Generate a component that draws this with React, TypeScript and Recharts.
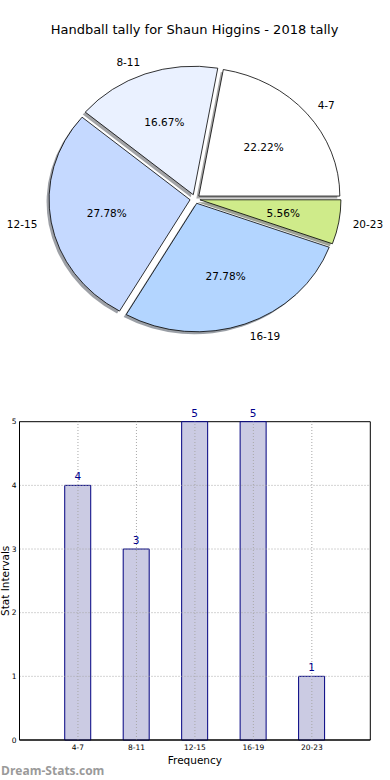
import React from 'react';
import { PieChart, Pie, BarChart, Bar, XAxis, YAxis, LabelList, ReferenceArea, ReferenceLine } from 'recharts';

const categories = ['4-7', '8-11', '12-15', '16-19', '20-23'];
const counts = [4, 3, 5, 5, 1];
const sliceColors = ['#ffffff', '#eaf1ff', '#c5d9ff', '#b3d5ff', '#cfeb8a'];
const yTicks = [0, 1, 2, 3, 4, 5];
const xTicks = [0, 1, 2, 3, 4];

const FONT = '"DejaVu Sans", sans-serif';
const KY = 128.5 / 141;
const EXPLODE = 5;
const RAD = Math.PI / 180;

const pieData = categories.map((c, i) => ({ name: c, value: counts[i] }));
const barData = categories.map((c, i) => ({ x: i, name: c, count: counts[i] }));

function wedge(cx: number, cy: number, r: number, start: number, end: number, mid: number) {
  const ex = cx + EXPLODE * Math.cos(mid * RAD);
  const ey = cy - EXPLODE * KY * Math.sin(mid * RAD);
  const rx = r;
  const ry = r * KY;
  const x1 = ex + rx * Math.cos(start * RAD);
  const y1 = ey - ry * Math.sin(start * RAD);
  const x2 = ex + rx * Math.cos(end * RAD);
  const y2 = ey - ry * Math.sin(end * RAD);
  const large = Math.abs(end - start) > 180 ? 1 : 0;
  const sweep = end > start ? 0 : 1;
  return {
    d: `M${ex},${ey} L${x1},${y1} A${rx},${ry} 0 ${large} ${sweep} ${x2},${y2} Z`,
    ex,
    ey,
    rx,
    ry,
  };
}

function shade(hex: string) {
  const n = parseInt(hex.slice(1), 16);
  const r = Math.round(((n >> 16) & 255) * 0.3);
  const g = Math.round(((n >> 8) & 255) * 0.3);
  const b = Math.round((n & 255) * 0.3);
  return `rgb(${r},${g},${b})`;
}

const shadowLabel = (p: any) => {
  const w = wedge(p.cx, p.cy, p.outerRadius, p.startAngle, p.endAngle, p.midAngle);
  return (
    <path
      key={`s${p.index}`}
      d={w.d}
      transform="translate(-2.5,2.5)"
      fill={shade(sliceColors[p.index])}
      fillOpacity={0.5}
      stroke="none"
    />
  );
};

const mainLabel = (p: any) => {
  const w = wedge(p.cx, p.cy, p.outerRadius, p.startAngle, p.endAngle, p.midAngle);
  const c = Math.cos(p.midAngle * RAD);
  const s = Math.sin(p.midAngle * RAD);
  const px = w.ex + 0.6 * w.rx * c;
  const py = w.ey - 0.6 * w.ry * s;
  const lx = w.ex + 1.1 * w.rx * c;
  const ly = w.ey - 1.1 * w.ry * s;
  return (
    <g key={`m${p.index}`}>
      <path d={w.d} fill={sliceColors[p.index]} stroke="#000" strokeWidth={0.8} strokeLinejoin="round" />
      <text x={px} y={py} textAnchor="middle" dominantBaseline="central" fontSize={10.5} fontFamily={FONT} fill="#000">
        {(p.percent * 100).toFixed(2)}%
      </text>
      <text x={lx} y={ly} textAnchor={c >= 0 ? 'start' : 'end'} dominantBaseline="central" fontSize={10.5} fontFamily={FONT} fill="#000">
        {p.name}
      </text>
    </g>
  );
};

export default function App() {
  return (
    <div style={{ position: 'absolute', left: 0, top: 0, width: 390, height: 780, background: '#fff', overflow: 'hidden' }}>
      <div
        style={{
          position: 'absolute',
          left: 0,
          top: 22,
          width: 389,
          textAlign: 'center',
          fontFamily: FONT,
          fontSize: 13,
          lineHeight: '16px',
          color: '#000',
        }}
      >
        Handball tally for Shaun Higgins - 2018 tally
      </div>
      <div style={{ position: 'absolute', left: 0, top: 0 }}>
        <PieChart width={390} height={390} margin={{ top: 0, right: 0, bottom: 0, left: 0 }}>
          <Pie
            data={pieData}
            dataKey="value"
            nameKey="name"
            cx={195}
            cy={199}
            outerRadius={141}
            startAngle={0}
            endAngle={360}
            fill="none"
            stroke="none"
            label={shadowLabel}
            labelLine={false}
            isAnimationActive={false}
          />
          <Pie
            data={pieData}
            dataKey="value"
            nameKey="name"
            cx={195}
            cy={199}
            outerRadius={141}
            startAngle={0}
            endAngle={360}
            fill="none"
            stroke="none"
            label={mainLabel}
            labelLine={false}
            isAnimationActive={false}
          />
        </PieChart>
      </div>
      <div style={{ position: 'absolute', left: 0, top: 400 }}>
        <BarChart width={390} height={380} data={barData} margin={{ top: 21.7, right: 19.7, bottom: 0, left: 0 }}>
          <XAxis
            type="number"
            dataKey="x"
            domain={[-1, 5]}
            ticks={xTicks}
            tickFormatter={(v: number) => categories[v]}
            allowDataOverflow
            height={40}
            tickSize={0}
            tickMargin={5}
            axisLine={{ stroke: '#000' }}
            tick={{ fontSize: 7.5, fill: '#000', fontFamily: FONT }}
            label={{
              content: (lp: any) => {
                const vb = lp.viewBox;
                return (
                  <text x={vb.x + vb.width / 2} y={vb.y + 24} textAnchor="middle" fontSize={10.5} fontFamily={FONT} fill="#000">
                    Frequency
                  </text>
                );
              },
            }}
          />
          <YAxis
            type="number"
            domain={[0, 5]}
            ticks={yTicks}
            width={19.5}
            tickSize={0}
            tickMargin={3}
            axisLine={{ stroke: '#000' }}
            tick={{ fontSize: 7.5, fill: '#000', fontFamily: FONT }}
            label={{
              content: (lp: any) => {
                const vb = lp.viewBox;
                const x = vb.x + 9;
                const y = vb.y + vb.height / 2;
                return (
                  <text x={x} y={y} transform={`rotate(-90, ${x}, ${y})`} textAnchor="middle" fontSize={10.5} fontFamily={FONT} fill="#000">
                    Stat Intervals
                  </text>
                );
              },
            }}
          />
          <Bar dataKey="count" barSize={26} fill="#cbcbe3" stroke="#000080" strokeWidth={1} isAnimationActive={false}>
            <LabelList dataKey="count" position="top" fill="#00008b" fontSize={10.5} fontFamily={FONT} />
          </Bar>
          {yTicks.slice(1, 5).map((t) => (
            <ReferenceLine key={`hy${t}`} y={t} stroke="#a8a8a8" strokeDasharray="1 2" strokeWidth={1} />
          ))}
          {xTicks.map((t) => (
            <ReferenceLine key={`vx${t}`} x={t} stroke="#a8a8a8" strokeDasharray="1 2" strokeWidth={1} />
          ))}
          <ReferenceArea x1={-1} x2={5} y1={0} y2={5} fill="none" fillOpacity={0} stroke="#000" strokeWidth={1} />
        </BarChart>
      </div>
      <div
        style={{
          position: 'absolute',
          left: 1,
          top: 763,
          fontFamily: '"Open Sans", sans-serif',
          fontWeight: 700,
          fontSize: 12,
          lineHeight: '16px',
          color: '#9a9a9a',
        }}
      >
        Dream-Stats.com
      </div>
    </div>
  );
}
